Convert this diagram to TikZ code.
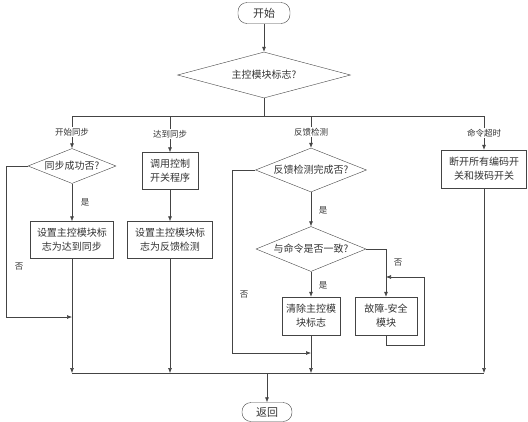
\documentclass[tikz,border=0pt]{standalone}
\usepackage{fontspec}
\newfontfamily\cjk{Noto Sans CJK SC}
\usetikzlibrary{arrows.meta,shapes.geometric}
\definecolor{linec}{HTML}{444444}
\definecolor{textc}{HTML}{333333}

\begin{document}
\begin{tikzpicture}[x=1pt, y=-1pt,
  font=\cjk\fontsize{10}{14}\selectfont,
  term/.style={draw=linec, rounded corners=9pt, text=textc,
               minimum width=52pt, minimum height=21pt, inner sep=0pt, font=\cjk\fontsize{11}{13}\selectfont},
  proc/.style={draw=linec, text=textc, align=center, inner sep=0pt},
  decision/.style={diamond, draw=linec, text=textc, aspect=2.5, inner sep=0pt},
  lab/.style={fill=white, text=textc, inner sep=1pt, font=\cjk\fontsize{8.5}{10}\selectfont},
  yn/.style={text=textc, inner sep=0pt, font=\cjk\fontsize{8.5}{10}\selectfont},
  line/.style={linec, line width=0.6pt},
  arr/.style={linec, line width=0.6pt, -{Latex[length=5pt,width=4pt]}}
]
  \useasboundingbox (0,0) rectangle (528,421);

  % top
  \node[term] (start) at (264,13) {开始};
  \node[decision, minimum width=173pt, minimum height=46pt] (flag) at (264,75) {主控模块标志?};
  \coordinate (bt) at (264,116);
  \coordinate (b1) at (72,116);
  \coordinate (b2) at (170,116);
  \coordinate (b3) at (311,116);
  \coordinate (b4) at (484,116);

  % branches
  \node[decision, minimum width=88pt, minimum height=35pt] (sync) at (72,166) {同步成功否?};
  \node[proc, minimum width=83pt, minimum height=37pt] (setA) at (72,240) {设置主控模块标\\志为达到同步};
  \node[proc, minimum width=56pt, minimum height=37pt] (call) at (170,171) {调用控制\\开关程序};
  \node[proc, minimum width=85pt, minimum height=37pt] (setB) at (170,240) {设置主控模块标\\志为反馈检测};
  \node[decision, minimum width=111pt, minimum height=44pt] (check) at (311,170) {反馈检测完成否?};
  \node[decision, minimum width=110pt, minimum height=45pt] (match) at (311,249) {与命令是否一致?};
  \node[proc, minimum width=58pt, minimum height=38pt] (clear) at (311,316) {清除主控模\\块标志};
  \node[proc, minimum width=62pt, minimum height=38pt] (fault) at (386,316) {故障-安全\\模块};
  \node[proc, minimum width=85pt, minimum height=38pt] (stop) at (484,169) {断开所有编码开\\关和拨码开关};

  \node[term, minimum width=50pt, minimum height=19pt] (ret) at (267,412) {返回};

  % junctions
  \coordinate (j1) at (72,317);
  \coordinate (j3) at (311,353);
  \coordinate (j4) at (386,277);
  \coordinate (e1) at (72,373);
  \coordinate (e2) at (170,373);
  \coordinate (e3) at (311,373);
  \coordinate (e4) at (484,373);
  \coordinate (e0) at (267,373);

  \draw[arr] (start) -- (flag);
  \draw[line] (flag.south) -- (bt);
  \draw[line] (b1) -- (b4);
  \draw[arr] (b1) -- node[lab] {开始同步} (sync.north);
  \draw[arr] (b2) -- node[lab] {达到同步} (call.north);
  \draw[arr] (b3) -- node[lab] {反馈检测} (check.north);
  \draw[arr] (b4) -- node[lab] {命令超时} (stop.north);

  \draw[arr] (sync) -- (setA);
  \draw[arr] (sync.west) -- ++(-22,0) |- (j1);
  \draw[arr] (call) -- (setB);
  \draw[arr] (check) -- (match);
  \draw[arr] (check.west) -- ++(-23,0) |- (j3);
  \draw[arr] (match) -- (clear);
  \draw[arr] (match.east) -| (fault.north);
  \draw[arr] (fault.south) -- ++(0,10) -- ++(38,0) |- (j4);

  \draw[arr] (setA) -- (e1);
  \draw[arr] (setB) -- (e2);
  \draw[arr] (clear) -- (e3);
  \draw[arr] (stop) -- (e4);
  \draw[line] (e1) -- (e4);
  \draw[arr] (e0) -- (ret);

  % yes / no
  \node[yn] at (85,202) {是};
  \node[yn] at (19,267) {否};
  \node[yn] at (323,210) {是};
  \node[yn] at (244,295) {否};
  \node[yn] at (323,285) {是};
  \node[yn] at (398,263) {否};
\end{tikzpicture}
\end{document}
